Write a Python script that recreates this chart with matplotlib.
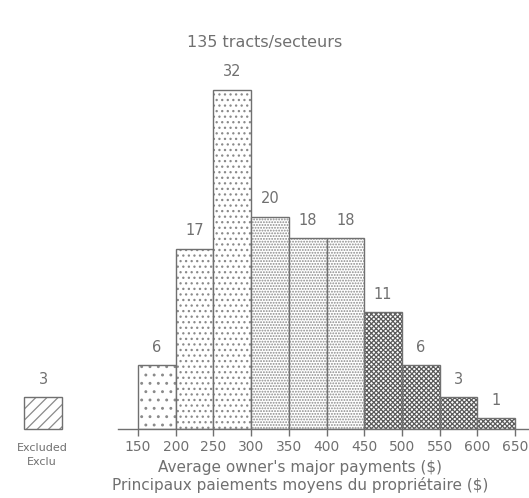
import matplotlib
matplotlib.use("Agg")
import matplotlib.pyplot as plt

bin_edges = [150, 200, 250, 300, 350, 400, 450, 500, 550, 600, 650]
counts = [6, 17, 32, 20, 18, 18, 11, 6, 3, 1]
hatches = ['..', '...', '...', '......', '......', '......', 'xxxxxxx', 'xxxxxxx', 'xxxxxxx', 'xxxxxxx']
hatch_colors = ['#8a8a8a'] * 6 + ['#5a5a5a'] * 4
excluded = 3
title = "135 tracts/secteurs"
xlabel1 = "Average owner's major payments ($)"
xlabel2 = "Principaux paiements moyens du propriétaire ($)"

gray = '#707070'
hgray = '#8a8a8a'
plt.rcParams['font.family'] = ['DejaVu Sans']
plt.rcParams['hatch.linewidth'] = 0.9

W, H = 529, 498
fig = plt.figure(figsize=(W / 100, H / 100), dpi=100)

base_px = 429
top_px = 60
ax = fig.add_axes([118 / W, (H - base_px) / H, 410 / W, (base_px - top_px) / H])
ax.set_xlim(123.5, 667)
ax.set_ylim(0, 34.8)

for i, c in enumerate(counts):
    x0 = bin_edges[i]
    w = bin_edges[i + 1] - x0
    ax.bar(x0, c, width=w, align='edge', facecolor='white', edgecolor=hatch_colors[i],
           hatch=hatches[i], linewidth=0)
    ax.bar(x0, c, width=w, align='edge', facecolor='none', edgecolor=gray,
           linewidth=1.0)
    ax.text(x0 + w / 2, c + 1.0, str(c), ha='center', va='bottom',
            fontsize=10.5, color=gray)

for s in ['top', 'right', 'left']:
    ax.spines[s].set_visible(False)
ax.spines['bottom'].set_color(gray)
ax.spines['bottom'].set_linewidth(1.0)
ax.set_yticks([])
ax.set_xticks(bin_edges)
ax.set_xticklabels([str(b) for b in bin_edges], fontsize=10, color=gray)
ax.tick_params(axis='x', colors=gray, length=5, width=1.0, pad=3, labelcolor=gray)

fig.text(265 / W, 1 - 42 / H, title, ha='center', va='center', fontsize=11.5, color=gray)
fig.text(300 / W, 1 - 467 / H, xlabel1, ha='center', va='center', fontsize=11, color=gray)
fig.text(300 / W, 1 - 485 / H, xlabel2, ha='center', va='center', fontsize=11, color=gray)

# Excluded box
axe = fig.add_axes([24 / W, (H - base_px) / H, 38 / W, (base_px - top_px) / H])
axe.set_xlim(0, 1)
axe.set_ylim(0, 34.8)
axe.bar(0, excluded, width=1, align='edge', facecolor='white', edgecolor=hgray,
        hatch='///', linewidth=0, clip_on=False)
axe.bar(0, excluded, width=1, align='edge', facecolor='none', edgecolor=gray,
        linewidth=1.0, clip_on=False)
axe.text(0.5, excluded + 1.0, str(excluded), ha='center', va='bottom', fontsize=10.5, color=gray)
axe.axis('off')
fig.text(42 / W, 1 - 448 / H, "Excluded", ha='center', va='center', fontsize=8, color=gray)
fig.text(42 / W, 1 - 462 / H, "Exclu", ha='center', va='center', fontsize=8, color=gray)

fig.savefig("out.png", dpi=100)
